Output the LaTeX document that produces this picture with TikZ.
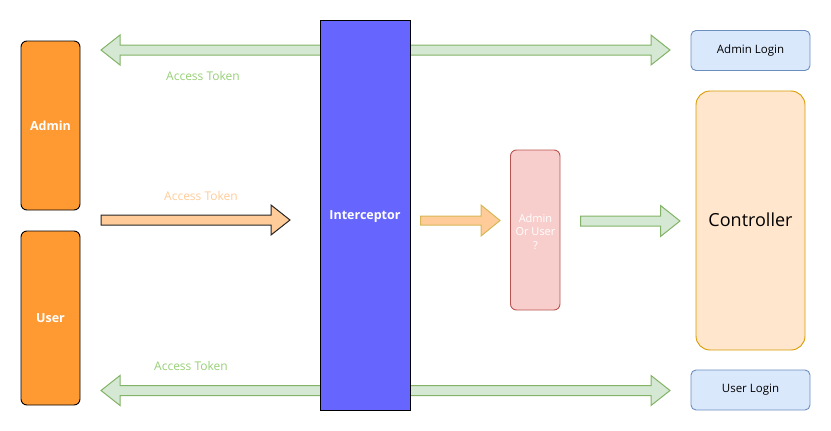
\documentclass[tikz,border=0pt]{standalone}
\usepackage{fontspec}
\setmainfont{Open Sans}
\definecolor{gfill}{HTML}{D5E8D4}
\definecolor{gline}{HTML}{82B366}
\definecolor{gtext}{HTML}{97D077}
\definecolor{ofill}{HTML}{FFCC99}
\definecolor{oline}{HTML}{D6B656}
\definecolor{otext}{HTML}{FFCC99}
\definecolor{boxorange}{HTML}{FF9A33}
\definecolor{purp}{HTML}{6666FF}
\definecolor{rfill}{HTML}{F8CECC}
\definecolor{rline}{HTML}{B85450}
\definecolor{cfill}{HTML}{FFE6CC}
\definecolor{cline}{HTML}{D79B00}
\definecolor{bfill}{HTML}{DAE8FC}
\definecolor{bline}{HTML}{6C8EBF}
% double arrow: x1, x2, y, shaft half, head half, head length
\newcommand\dblarrow[7][]{%
  \draw[#1] (#2,#4) -- ({#2+#7},{#4-#6}) -- ({#2+#7},{#4-#5}) -- ({#3-#7},{#4-#5})
    -- ({#3-#7},{#4-#6}) -- (#3,#4) -- ({#3-#7},{#4+#6}) -- ({#3-#7},{#4+#5})
    -- ({#2+#7},{#4+#5}) -- ({#2+#7},{#4+#6}) -- cycle;}
% single arrow pointing right: x1, x2, y, shaft half, head half, head length
\newcommand\sglarrow[7][]{%
  \draw[#1] (#2,{#4-#5}) -- ({#3-#7},{#4-#5}) -- ({#3-#7},{#4-#6}) -- (#3,#4)
    -- ({#3-#7},{#4+#6}) -- ({#3-#7},{#4+#5}) -- (#2,{#4+#5}) -- cycle;}
\tikzset{
  actor/.style={draw=black, fill=boxorange, rounded corners=6pt, line width=0.9pt},
  wtext/.style={text=white, font=\bfseries\fontsize{12.5}{14}\selectfont},
  garrow/.style={draw=gline, fill=gfill, line width=1pt},
  lbl/.style={font=\fontsize{12}{13}\selectfont},
  loginbox/.style={draw=bline, fill=bfill, rounded corners=5pt, line width=0.9pt,
    font=\fontsize{11.5}{13}\selectfont}
}
\begin{document}
\begin{tikzpicture}[x=1pt,y=-1pt]
\useasboundingbox (0,0) rectangle (831,431);
% background double arrows
\dblarrow[garrow]{101}{670}{50}{5}{15}{19}
\dblarrow[garrow]{101}{670}{390.5}{5}{15}{19}
% actors
\path[actor] (21,41) rectangle (80,210);
\node[wtext] (admin) at (50.5,125.5) {Admin};
\path[actor] (21,231) rectangle (80,405);
\node[wtext] (user) at (50.5,318) {User};
% interceptor
\path[draw=black, fill=purp, line width=0.9pt] (320,20) rectangle (410.5,410);
\node[wtext] (icpt) at (365,216.5) {Interceptor};
% labels
\node[lbl, text=gtext] (t1) at (203,75.5) {Access Token};
\node[lbl, text=otext] (t2) at (201,196) {Access Token};
\node[lbl, text=gtext] (t3) at (191,366) {Access Token};
% orange arrows
\sglarrow[draw=black!85, fill=ofill, line width=1pt]{101}{290}{220}{5}{15}{19}
\sglarrow[draw=oline, fill=ofill, line width=1pt]{420.5}{500}{220.5}{4.5}{15.5}{19}
% decision box
\path[draw=rline, fill=rfill, rounded corners=6pt, line width=0.9pt] (510.5,150) rectangle (560,310);
\node[text=white, align=center, font=\fontsize{11}{13.5}\selectfont] (dec) at (535.5,231.5) {Admin\\Or User\\?};
% green arrow
\sglarrow[garrow]{580.5}{680}{221}{5}{15.5}{19.5}
% controller
\path[draw=cline, fill=cfill, rounded corners=14pt, line width=0.9pt] (696,91) rectangle (805,350);
\node[font=\fontsize{18}{20}\selectfont] (ctrl) at (750.5,220) {Controller};
% login boxes
\node[loginbox, minimum width=119pt, minimum height=40pt] (alogin) at (750.5,50.5) {Admin Login};
\node[loginbox, minimum width=119pt, minimum height=40pt] (ulogin) at (750.5,390) {User Login};
\end{tikzpicture}
\end{document}
